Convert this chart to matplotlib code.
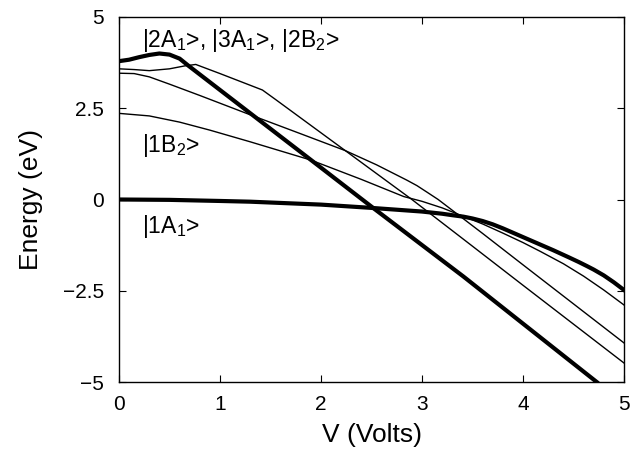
import matplotlib.pyplot as plt
import numpy as np

plt.rcParams['font.family'] = ['Liberation Sans', 'DejaVu Sans']
plt.rcParams['mathtext.fontset'] = 'custom'
plt.rcParams['mathtext.rm'] = 'Liberation Sans'
plt.rcParams['mathtext.it'] = 'Liberation Sans:italic'
plt.rcParams['mathtext.default'] = 'rm'

# thick curve, ground state |1A1>
v_1a1 = [0, 0.5, 1.0, 1.3, 2.0, 2.5, 3.0, 3.2, 3.3, 3.41, 3.5, 3.6, 3.7, 3.8, 3.9,
         4.0, 4.1, 4.2, 4.3, 4.45, 4.55, 4.63, 4.7, 4.8, 4.9, 5.0]
e_1a1 = [0, -0.01, -0.04, -0.06, -0.14, -0.23, -0.33, -0.39, -0.43, -0.47, -0.52, -0.59,
         -0.68, -0.79, -0.91, -1.03, -1.15, -1.27, -1.39, -1.58, -1.71, -1.82, -1.92,
         -2.08, -2.27, -2.48]

# thick steep curve
v_thick2 = [0, 0.1, 0.2, 0.3, 0.4, 0.5, 0.6, 0.69, 1.86, 2.53, 3.41, 4.73]
e_thick2 = [3.79, 3.83, 3.9, 3.96, 4.0, 3.97, 3.86, 3.66, 1.17, -0.26, -2.11, -5.0]

# thin curve with kink near 0.76 V
v_a = [0, 0.15, 0.3, 0.5, 0.65, 0.76, 1.0, 1.42, 1.55, 2.24, 2.9, 3.5, 4.0, 5.0]
e_a = [3.58, 3.56, 3.53, 3.58, 3.66, 3.7, 3.45, 3.0, 2.74, 1.34, 0.0, -1.28, -2.35, -4.48]

# thin curve starting at 3.46 eV
v_b = [0, 0.15, 0.3, 0.5, 0.8, 1.3, 1.8, 2.24, 2.55, 2.75, 2.85, 2.95, 3.05, 3.16, 3.34,
       3.6, 4.0, 4.5, 5.0]
e_b = [3.46, 3.45, 3.36, 3.16, 2.85, 2.32, 1.8, 1.34, 0.95, 0.67, 0.53, 0.38, 0.2, 0.0,
       -0.38, -0.93, -1.79, -2.86, -3.93]

# thin curve |1B2>
v_c = [0, 0.3, 0.6, 0.9, 1.3, 1.9, 2.4, 2.82, 3.0, 3.2, 3.4, 3.6, 3.8, 4.0, 4.17, 4.4,
       4.6, 4.8, 5.0]
e_c = [2.36, 2.29, 2.12, 1.9, 1.58, 1.08, 0.55, 0.08, -0.05, -0.23, -0.45, -0.67, -0.92,
       -1.18, -1.42, -1.76, -2.1, -2.48, -2.89]

x_ticks = [0, 1, 2, 3, 4, 5]
y_ticks = [-5, -2.5, 0, 2.5, 5]
y_ticklabels = ['\u22125', '\u22122.5', '0', '2.5', '5']

fig = plt.figure(figsize=(6.39, 4.51), dpi=100)
ax = fig.add_axes([119 / 639, 1 - 382 / 451, 505 / 639, 365 / 451])

thin = dict(color='black', lw=1.0)
thick = dict(color='black', lw=3.0)
ax.plot(v_a, e_a, **thin)
ax.plot(v_b, e_b, **thin)
ax.plot(v_c, e_c, **thin)
ax.plot(v_thick2, e_thick2, **thick)
ax.plot(v_1a1, e_1a1, **thick)

ax.set_xlim(0, 5)
ax.set_ylim(-5, 5)
ax.set_xticks(x_ticks)
ax.set_yticks(y_ticks)
ax.set_yticklabels(y_ticklabels)
ax.tick_params(direction='in', top=True, right=True, length=5, width=0.8,
               labelsize=15)
ax.tick_params(axis='x', pad=9)
ax.tick_params(axis='y', pad=11)
for s in ax.spines.values():
    s.set_linewidth(1.0)

ax.set_xlabel('V (Volts)', fontsize=19, labelpad=7)
ax.set_ylabel('Energy (eV)', fontsize=19, labelpad=14)

ax.text(0.23, 4.18, r'|2A$_1$>, |3A$_1$>, |2B$_2$>', fontsize=16.5, va='baseline')
ax.text(0.23, 1.30, r'|1B$_2$>', fontsize=16.5, va='baseline')
ax.text(0.23, -0.92, r'|1A$_1$>', fontsize=16.5, va='baseline')

fig.savefig('out.png', dpi=100)
